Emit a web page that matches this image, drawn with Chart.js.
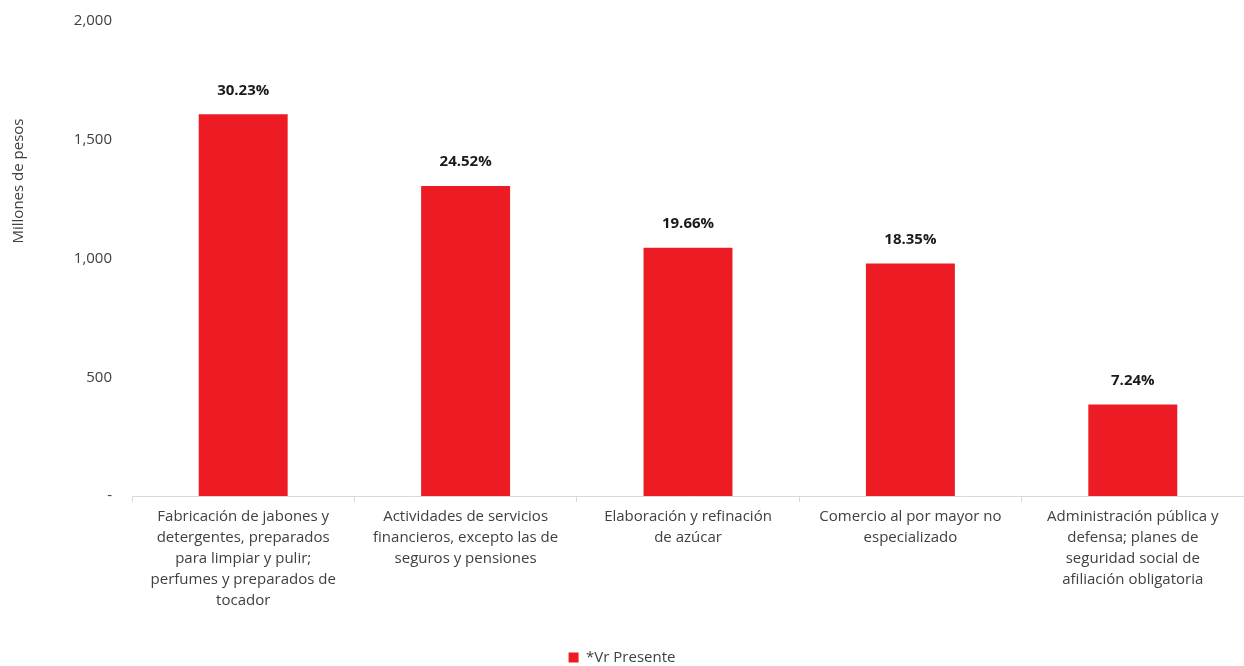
<!DOCTYPE html>
<html>
<head>
<meta charset="utf-8">
<script src="https://cdn.jsdelivr.net/npm/chart.js@4.4.1/dist/chart.umd.min.js"></script>
<style>
  html, body { margin: 0; padding: 0; background: #fff; overflow: hidden; }
  #wrap { width: 1244px; height: 666px; position: relative; }
</style>
</head>
<body>
<div id="wrap"><canvas id="chart"></canvas></div>
<script>
// categories, values and labels
const categories = [
    ['Fabricación de jabones y', 'detergentes, preparados', 'para limpiar y pulir;', 'perfumes y preparados de', 'tocador'],
    ['Actividades de servicios', 'financieros, excepto las de', 'seguros y pensiones'],
    ['Elaboración y refinación', 'de azúcar'],
    ['Comercio al por mayor no', 'especializado'],
    ['Administración pública y', 'defensa; planes de', 'seguridad social de', 'afiliación obligatoria']
];
const vrPresente = [1607, 1305, 1045, 979, 385];
const shareLabels = ['30.23%', '24.52%', '19.66%', '18.35%', '7.24%'];
const yTicks = [0, 500, 1000, 1500, 2000];

const FONT = '"Open Sans", "DejaVu Sans", sans-serif';
const RED = '#ED1C24';

// bold % label above each bar
const barLabels = {
    id: 'barLabels',
    afterDatasetsDraw(chart) {
        const ctx = chart.ctx;
        const meta = chart.getDatasetMeta(0);
        ctx.save();
        ctx.font = 'bold 15px ' + FONT;
        ctx.fillStyle = '#1a1a1a';
        ctx.textAlign = 'center';
        ctx.textBaseline = 'middle';
        meta.data.forEach((bar, i) => {
            ctx.fillText(shareLabels[i], bar.x, bar.y - 24);
        });
        ctx.restore();
    }
};

// y axis title sits higher than the plot middle
const yTitle = {
    id: 'yTitle',
    afterDraw(chart) {
        const ctx = chart.ctx;
        ctx.save();
        ctx.translate(19, 181);
        ctx.rotate(-Math.PI / 2);
        ctx.font = '15px ' + FONT;
        ctx.fillStyle = '#404040';
        ctx.textAlign = 'center';
        ctx.textBaseline = 'middle';
        ctx.fillText('Millones de pesos', 0, 0);
        ctx.restore();
    }
};

new Chart(document.getElementById('chart'), {
    type: 'bar',
    data: {
        labels: categories,
        datasets: [{
            label: '*Vr Presente',
            data: vrPresente,
            backgroundColor: RED,
            borderWidth: 0,
            barPercentage: 0.4,
            categoryPercentage: 1
        }]
    },
    options: {
        responsive: true,
        maintainAspectRatio: false,
        animation: false,
        layout: { padding: { top: 2, right: 0, left: 0, bottom: -9 } },
        scales: {
            x: {
                grid: {
                    offset: true,
                    drawOnChartArea: false,
                    drawTicks: true,
                    tickLength: 6,
                    color: '#D9D9D9'
                },
                border: { color: '#D9D9D9' },
                ticks: {
                    maxRotation: 0,
                    autoSkip: false,
                    padding: 4,
                    color: '#404040',
                    font: { family: FONT, size: 15, lineHeight: 1.4 }
                },
                afterFit(scale) {
                    scale.height = 152;
                    scale.paddingLeft = 0;
                    scale.paddingRight = 0;
                }
            },
            y: {
                min: 0,
                max: 2000,
                afterBuildTicks(scale) { scale.ticks = yTicks.map(v => ({ value: v })); },
                grid: { display: false },
                border: { display: false },
                ticks: {
                    padding: 12,
                    color: '#404040',
                    font: { family: FONT, size: 15 },
                    callback: v => v === 0 ? '-' : v.toLocaleString('en-US')
                },
                afterFit(scale) { scale.width = 132; }
            }
        },
        plugins: {
            legend: {
                position: 'bottom',
                labels: {
                    boxWidth: 10,
                    boxHeight: 10,
                    padding: 2,
                    color: '#404040',
                    font: { family: FONT, size: 15 }
                }
            },
            tooltip: { enabled: false }
        }
    },
    plugins: [barLabels, yTitle]
});
</script>
</body>
</html>
